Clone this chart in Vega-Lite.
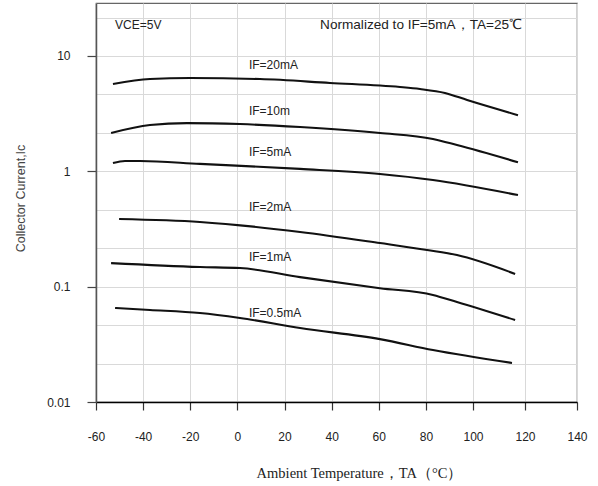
{
  "$schema": "https://vega.github.io/schema/vega-lite/v6.json",
  "width": 481,
  "height": 399,
  "autosize": {"type": "none"},
  "padding": {"left": 96, "top": 3, "right": 21, "bottom": 84},
  "background": "white",
  "config": {
    "view": {"stroke": "#666666", "strokeWidth": 1.2},
    "font": "Liberation Sans"
  },
  "datasets": {
    "curves": [
      {"T": -52.8, "Ic": 5.71, "series": "20mA"},
      {"T": -37.1, "Ic": 6.31, "series": "20mA"},
      {"T": -20.1, "Ic": 6.44, "series": "20mA"},
      {"T": 9.6, "Ic": 6.31, "series": "20mA"},
      {"T": 39.3, "Ic": 5.84, "series": "20mA"},
      {"T": 69.0, "Ic": 5.38, "series": "20mA"},
      {"T": 77.5, "Ic": 5.17, "series": "20mA"},
      {"T": 88.1, "Ic": 4.78, "series": "20mA"},
      {"T": 97.5, "Ic": 4.15, "series": "20mA"},
      {"T": 117.3, "Ic": 3.07, "series": "20mA"},
      {"T": -53.6, "Ic": 2.15, "series": "10mA"},
      {"T": -37.1, "Ic": 2.52, "series": "10mA"},
      {"T": -21.4, "Ic": 2.62, "series": "10mA"},
      {"T": 1.1, "Ic": 2.57, "series": "10mA"},
      {"T": 26.6, "Ic": 2.42, "series": "10mA"},
      {"T": 60.5, "Ic": 2.15, "series": "10mA"},
      {"T": 83.0, "Ic": 1.91, "series": "10mA"},
      {"T": 93.2, "Ic": 1.69, "series": "10mA"},
      {"T": 117.3, "Ic": 1.20, "series": "10mA"},
      {"T": -52.8, "Ic": 1.18, "series": "5mA"},
      {"T": -47.7, "Ic": 1.23, "series": "5mA"},
      {"T": -41.3, "Ic": 1.23, "series": "5mA"},
      {"T": -15.9, "Ic": 1.16, "series": "5mA"},
      {"T": 26.6, "Ic": 1.05, "series": "5mA"},
      {"T": 60.5, "Ic": 0.948, "series": "5mA"},
      {"T": 83.0, "Ic": 0.841, "series": "5mA"},
      {"T": 117.3, "Ic": 0.623, "series": "5mA"},
      {"T": -50.2, "Ic": 0.386, "series": "2mA"},
      {"T": -15.9, "Ic": 0.364, "series": "2mA"},
      {"T": 26.6, "Ic": 0.298, "series": "2mA"},
      {"T": 60.5, "Ic": 0.239, "series": "2mA"},
      {"T": 80.5, "Ic": 0.208, "series": "2mA"},
      {"T": 93.2, "Ic": 0.188, "series": "2mA"},
      {"T": 116.2, "Ic": 0.129, "series": "2mA"},
      {"T": -53.6, "Ic": 0.160, "series": "1mA"},
      {"T": -15.9, "Ic": 0.148, "series": "1mA"},
      {"T": 1.1, "Ic": 0.145, "series": "1mA"},
      {"T": 26.6, "Ic": 0.121, "series": "1mA"},
      {"T": 60.5, "Ic": 0.097, "series": "1mA"},
      {"T": 83.0, "Ic": 0.0848, "series": "1mA"},
      {"T": 93.2, "Ic": 0.0736, "series": "1mA"},
      {"T": 116.2, "Ic": 0.0514, "series": "1mA"},
      {"T": -51.9, "Ic": 0.0653, "series": "0.5mA"},
      {"T": -37.1, "Ic": 0.0628, "series": "0.5mA"},
      {"T": -15.9, "Ic": 0.0591, "series": "0.5mA"},
      {"T": 1.1, "Ic": 0.0535, "series": "0.5mA"},
      {"T": 26.6, "Ic": 0.0438, "series": "0.5mA"},
      {"T": 60.5, "Ic": 0.0351, "series": "0.5mA"},
      {"T": 83.0, "Ic": 0.0282, "series": "0.5mA"},
      {"T": 115.0, "Ic": 0.0218, "series": "0.5mA"}
    ],
    "labels": [
      {"T": 4.9, "Ic": 8.36, "text": "IF=20mA", "size": 12},
      {"T": 4.9, "Ic": 3.34, "text": "IF=10m", "size": 12},
      {"T": 4.9, "Ic": 1.47, "text": "IF=5mA", "size": 12},
      {"T": 4.9, "Ic": 0.491, "text": "IF=2mA", "size": 12},
      {"T": 4.9, "Ic": 0.181, "text": "IF=1mA", "size": 12},
      {"T": 4.9, "Ic": 0.0591, "text": "IF=0.5mA", "size": 12},
      {"T": -51.9, "Ic": 18.6, "text": "VCE=5V", "size": 12},
      {"T": 35.1, "Ic": 18.6, "text": "Normalized to IF=5mA，TA=25℃", "size": 13.6}
    ]
  },
  "layer": [
    {
      "data": {"name": "curves"},
      "mark": {"type": "line", "interpolate": "monotone", "color": "#111111", "strokeWidth": 2.1},
      "encoding": {
        "detail": {"field": "series", "type": "nominal"},
        "x": {
          "field": "T", "type": "quantitative",
          "scale": {"domain": [-60, 100, 140], "range": [0, 377, 481], "nice": false, "zero": false},
          "axis": {
            "values": [-60, -40, -20, 0, 20, 40, 60, 80, 100, 120, 140],
            "labelExpr": "'' + datum.value",
            "grid": true, "gridColor": "#d9d9d9", "gridWidth": 1,
            "domainColor": "#000000", "domainWidth": 1.6,
            "tickColor": "#333333", "tickSize": 8, "tickWidth": 1.2,
            "labelFont": "Liberation Sans", "labelFontSize": 12, "labelColor": "#222222",
            "labelPadding": 21, "labelFlush": false,
            "title": "Ambient Temperature，TA（°C）",
            "titleFont": "Liberation Serif", "titleFontSize": 14.5, "titleFontWeight": "normal",
            "titleColor": "#222222", "titleX": 263, "titleY": 71, "titleAlign": "center", "titleBaseline": "middle"
          }
        },
        "y": {
          "field": "Ic", "type": "quantitative",
          "scale": {"type": "log", "domain": [0.01, 28.8], "nice": false},
          "axis": {
            "values": [0.01, 0.021544, 0.046416, 0.1, 0.21544, 0.46416, 1, 2.1544, 4.6416, 10, 21.544],
            "format": "~g",
            "labelExpr": "abs(log(datum.value)/LN10 - round(log(datum.value)/LN10)) < 0.01 ? datum.label : ''",
            "tickOpacity": {"condition": {"test": "abs(log(datum.value)/LN10 - round(log(datum.value)/LN10)) < 0.01", "value": 1}, "value": 0},
            "grid": true, "gridColor": "#d9d9d9", "gridWidth": 1,
            "domainColor": "#555555", "domainWidth": 1.5,
            "tickColor": "#444444", "tickSize": 9, "tickWidth": 1.2,
            "labelFont": "Liberation Sans", "labelFontSize": 12, "labelColor": "#222222",
            "labelPadding": 17, "labelFlush": false,
            "title": "Collector Current,Ic",
            "titleFont": "Liberation Sans", "titleFontSize": 12.5, "titleFontWeight": "normal",
            "titleColor": "#444444", "titleAngle": -90, "titleX": -76, "titleY": 195,
            "titleAlign": "center", "titleBaseline": "middle"
          }
        }
      }
    },
    {
      "data": {"name": "labels"},
      "mark": {"type": "text", "align": "left", "baseline": "middle", "font": "Liberation Sans", "color": "#222222"},
      "encoding": {
        "x": {"field": "T", "type": "quantitative"},
        "y": {"field": "Ic", "type": "quantitative"},
        "text": {"field": "text"},
        "size": {"field": "size", "type": "quantitative", "scale": null}
      }
    }
  ]
}
